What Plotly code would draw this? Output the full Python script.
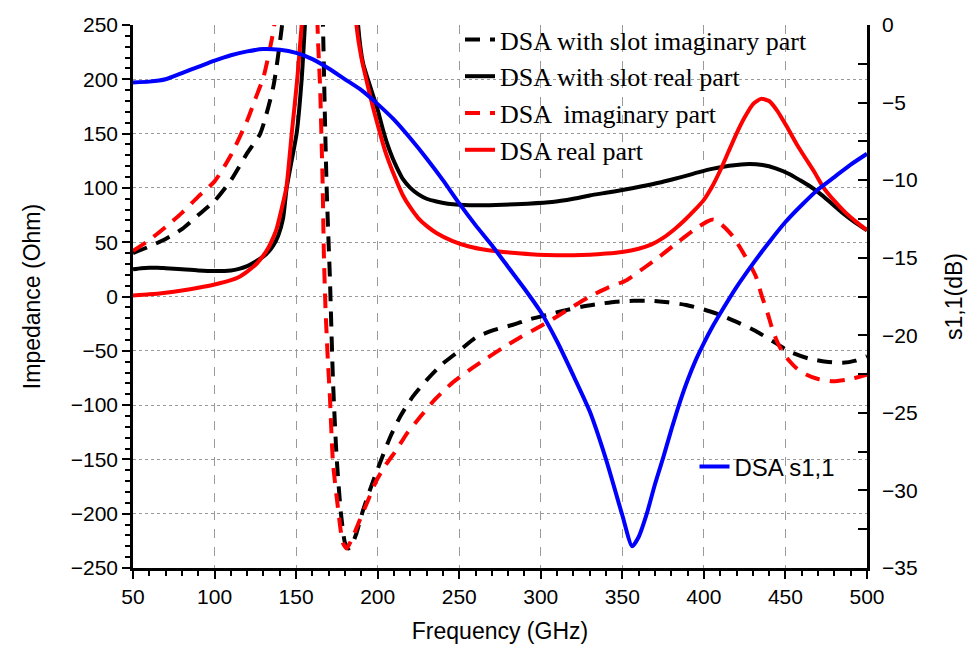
import plotly.graph_objects as go

# ---------------- data ----------------
# DSA with slot, imaginary part (Ohm)
f_slot_imag = [50, 60, 70, 80, 90, 100, 110, 120, 128, 136, 141, 145, 150, 155, 160, 164,
               165.6, 166.5, 167.7, 168.7, 169.7, 170.7, 172.6, 174.8, 177.5, 180, 182, 184, 187,
               191, 196, 201.5, 207.5, 214, 221.6, 230, 239, 250, 260, 271, 283, 293, 303.6,
               314, 325, 335, 346, 357, 367, 378, 389, 400, 410, 421, 432, 442, 453, 464,
               475, 485, 493, 500]
z_slot_imag = [40, 46, 53, 62, 75, 88, 107, 132, 150, 193, 245, 300, 360, 400, 420, 380,
               300, 248, 162, 101, 58, 18, -77, -147, -200, -227, -232, -229, -218,
               -197, -175, -153, -130, -110, -92, -77, -63, -50, -38, -31, -26, -21, -17,
               -13, -9.5, -7, -4.8, -4, -3.9, -5.3, -7.8, -12, -17, -24, -32, -41, -51, -57,
               -60, -61, -59, -55]

# DSA with slot, real part (Ohm)
f_slot_real = [50, 55, 60, 65, 70, 80, 90, 100, 110, 115, 120, 125, 130, 133, 136, 139, 142,
               144.2, 147, 150.3, 153.4, 155.4, 158, 162, 166, 170, 175, 180, 185, 188, 191,
               194, 197, 200, 203, 206, 209, 212, 215.5, 220, 225, 230, 236, 243, 250, 263,
               277, 292, 307, 320, 330, 340, 350, 362, 373, 381, 390, 397, 405, 412, 420,
               428, 436, 444, 452, 459, 465, 471, 478, 485, 492, 500]
z_slot_real = [25, 26, 26.5, 26.5, 26, 25, 24, 23.5, 24, 25.5, 28, 32, 37, 41, 47, 56, 72,
               100, 123, 150, 200, 250, 320, 420, 600, 700, 650, 500, 350, 250, 215,
               200, 186, 172, 155, 140, 128, 118, 108, 100, 94, 90, 87.5, 85.5, 84.5, 84,
               84.5, 85.5, 87, 90, 93, 95.5, 98, 101.5, 105, 108, 111.5, 114.5, 117.5, 119.5,
               121, 122, 121, 118, 113, 107, 101.5, 95, 86, 77, 69, 61]

# DSA, imaginary part (Ohm)
f_dsa_imag = [50, 60, 70, 80, 90, 100, 110, 120, 125, 130, 135, 138, 142, 148, 154, 159, 162,
              163.5, 164.7, 165.7, 166.3, 167, 168, 169.5, 170.7, 172.6, 175.6, 178.7, 181,
              184, 189, 194, 199.4, 205, 211.6, 218, 226, 235, 245.4, 256, 266.8, 277, 288,
              299, 309.7, 320, 330, 341, 352.6, 363, 373, 384, 395.5, 402, 406, 411, 418,
              423, 428, 432, 435.4, 439, 442.4, 446, 450, 456.8, 463, 470, 479, 490, 500]
z_dsa_imag = [42, 52, 64, 77, 92, 106, 130, 162, 182, 202, 236, 262, 300, 360, 400, 380, 300,
              233, 193, 138, 101, 40, -10, -60, -92, -153, -194, -227, -232,
              -224, -206, -188, -169, -155, -141, -126, -111, -95, -80, -68, -57, -47, -37,
              -28, -18.6, -9, 0, 8, 15, 26, 37, 50, 63, 69, 71, 66, 55,
              43, 30, 18, 1, -15, -32, -45, -55, -66, -72, -76, -78, -76, -72]

# DSA, real part (Ohm)
f_dsa_real = [50, 60, 70, 80, 90, 100, 110, 115, 120, 125, 130, 133, 135, 138, 141, 144,
              147.3, 150.7, 153.4, 156, 160, 165, 170, 175, 180, 184, 187, 190, 193, 197,
              201.5, 205, 210, 215.5, 220, 225, 230, 236, 246, 256, 266, 277, 288, 298,
              310, 320, 330, 340, 350, 360, 368, 375, 382, 388, 394, 400, 405, 410, 415,
              420, 425, 430, 435, 440, 445, 451, 457, 462, 468, 473, 480, 487, 494, 500]
z_dsa_real = [1, 2, 3.5, 5.5, 8, 11, 15, 18, 23, 29, 38, 45, 51, 62, 80, 100,
              150, 200, 250, 300, 400, 600, 700, 600, 450, 330, 250, 220, 200, 175,
              150, 132, 112, 93, 82, 72, 65, 58.5, 51, 46, 43, 41, 39.5, 38.5,
              38, 38, 38.5, 39.5, 41, 44, 48, 54, 62, 70, 79, 89, 101, 116, 133,
              150, 165, 177, 182, 180, 171, 156, 140, 128, 114, 101, 88, 77, 68, 61]

# DSA s1,1 (dB)
f_s11 = [50, 60, 70, 80, 90, 100, 110, 120, 130, 140, 150, 160, 170, 180, 190, 200, 210,
         220, 230, 240, 250, 260, 270, 280, 290, 300, 310, 320, 330, 340, 350, 356, 360,
         365, 370, 375, 380, 385, 390, 395, 400, 405, 410, 420, 430, 440, 450, 460, 470,
         480, 490, 500]
s11_db = [-3.7, -3.65, -3.5, -3.1, -2.7, -2.3, -1.95, -1.7, -1.55, -1.6, -1.8, -2.2, -2.8,
          -3.5, -4.2, -5.1, -6.1, -7.3, -8.6, -10.0, -11.5, -12.9, -14.2, -15.6, -17.0,
          -18.5, -20.4, -22.6, -24.9, -28.0, -31.6, -33.6, -33.0, -31.5, -29.6, -27.9,
          -26.1, -24.4, -22.9, -21.6, -20.5, -19.5, -18.6, -16.9, -15.4, -14.0, -12.7,
          -11.6, -10.6, -9.8, -9.0, -8.3]

names = ["DSA with slot imaginary part", "DSA with slot real part",
         "DSA  imaginary part", "DSA real part", "DSA s1,1"]

# ---------------- figure ----------------
LW = 4
DASH = "15px,10px"
SM = 0.6
fig = go.Figure()
fig.add_trace(go.Scatter(x=f_slot_imag, y=z_slot_imag, name=names[0], mode="lines",
                         line=dict(color="black", width=LW, dash=DASH, shape="spline", smoothing=SM)))
fig.add_trace(go.Scatter(x=f_slot_real, y=z_slot_real, name=names[1], mode="lines",
                         line=dict(color="black", width=LW, shape="spline", smoothing=SM)))
fig.add_trace(go.Scatter(x=f_dsa_imag, y=z_dsa_imag, name=names[2], mode="lines",
                         line=dict(color="#ff0000", width=LW, dash=DASH, shape="spline", smoothing=SM)))
fig.add_trace(go.Scatter(x=f_dsa_real, y=z_dsa_real, name=names[3], mode="lines",
                         line=dict(color="#ff0000", width=LW, shape="spline", smoothing=SM)))
fig.add_trace(go.Scatter(x=f_s11, y=s11_db, name=names[4], mode="lines", yaxis="y2",
                         legend="legend2",
                         line=dict(color="#0000ff", width=LW, shape="spline", smoothing=SM)))

TICKFONT = dict(family="Liberation Sans, Arial, sans-serif", size=21, color="black")
TITLEFONT = dict(family="Liberation Sans, Arial, sans-serif", size=23, color="black")

fig.update_layout(
    width=971, height=651,
    margin=dict(l=133, r=104, t=25, b=83, autoexpand=False),
    paper_bgcolor="white", plot_bgcolor="white",
    xaxis=dict(range=[50, 500], dtick=50, tick0=50, showgrid=True, gridcolor="#9a9a9a",
               griddash="dash", gridwidth=1, zeroline=False, automargin=False,
               showline=True, linecolor="black", linewidth=2.5,
               ticks="outside", ticklen=8, tickwidth=2, tickcolor="black",
               minor=dict(dtick=10, ticks="outside", ticklen=5, tickwidth=2,
                          tickcolor="black", showgrid=False),
               tickfont=TICKFONT,
               title=dict(text="Frequency (GHz)", font=TITLEFONT, standoff=16)),
    xaxis2=dict(range=[50, 500], overlaying="x", side="top", matches="x", anchor="y",
                showgrid=False, zeroline=False, showticklabels=False, automargin=False,
                showline=True, linecolor="black", linewidth=2.5,
                ticks="inside", ticklen=8, tickwidth=2, tickcolor="black", dtick=50, tick0=50,
                minor=dict(dtick=10, ticks="inside", ticklen=5, tickwidth=2,
                           tickcolor="black", showgrid=False)),
    yaxis=dict(range=[-250, 250], dtick=50, tick0=0, showgrid=True, gridcolor="#9a9a9a",
               griddash="dot", gridwidth=1, zeroline=False, automargin=False,
               showline=True, linecolor="black", linewidth=2.5,
               ticks="outside", ticklen=8, tickwidth=2, tickcolor="black",
               minor=dict(dtick=10, ticks="outside", ticklen=5, tickwidth=2,
                          tickcolor="black", showgrid=False),
               tickfont=TICKFONT,
               title=dict(text="Impedance (Ohm)", font=TITLEFONT, standoff=24)),
    yaxis2=dict(range=[-35, 0], dtick=5, tick0=0, overlaying="y", side="right",
                showgrid=False, zeroline=False, automargin=False,
                showline=True, linecolor="black", linewidth=2.5,
                ticks="inside", ticklen=9, tickwidth=2, tickcolor="black",
                minor=dict(dtick=2.5, ticks="inside", ticklen=9, tickwidth=2,
                           tickcolor="black", showgrid=False),
                tickfont=TICKFONT, ticklabelstandoff=8,
                title=dict(text="s1,1(dB)", font=TITLEFONT, standoff=30)),
    legend=dict(x=0.4455, y=1.0166, xanchor="left", yanchor="top",
                bgcolor="rgba(0,0,0,0)", borderwidth=0,
                font=dict(family="Liberation Serif, Times New Roman, serif", size=26,
                          color="black"),
                itemwidth=30, tracegroupgap=0),
    legend2=dict(x=0.765, y=0.186, xanchor="left", yanchor="middle",
                 bgcolor="rgba(0,0,0,0)", borderwidth=0,
                 font=dict(family="Liberation Sans, Arial, sans-serif", size=24,
                           color="black")),
    showlegend=True,
)

fig.write_html("out.html")
